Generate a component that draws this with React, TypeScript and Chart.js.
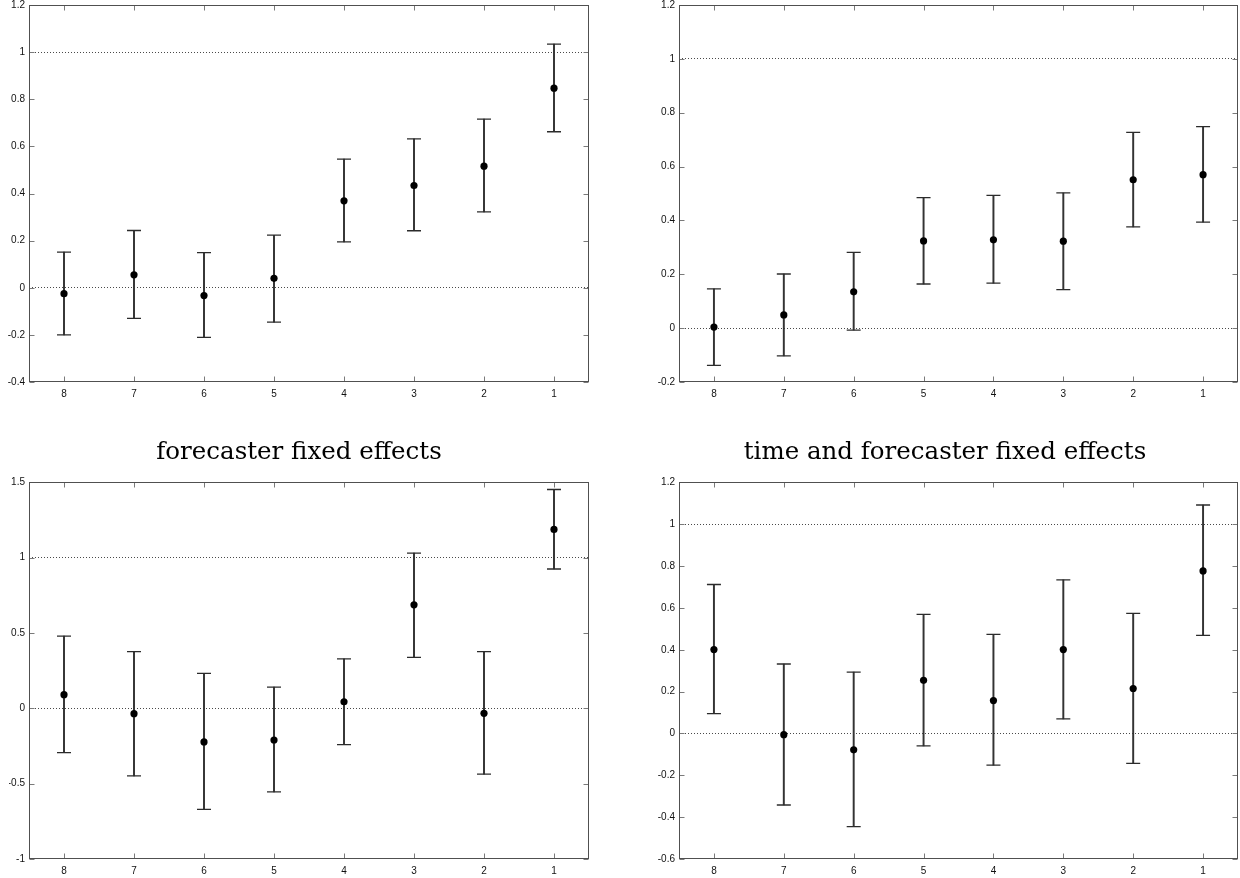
import React, { useEffect, useRef } from 'react';
import { Chart, registerables } from 'chart.js';

Chart.register(...registerables);

// ---------- data ----------
const categories = ['8', '7', '6', '5', '4', '3', '2', '1'];

const p1Est = [-0.025, 0.055, -0.033, 0.04, 0.369, 0.434, 0.516, 0.847];
const p1Lo = [-0.2, -0.13, -0.211, -0.146, 0.195, 0.242, 0.322, 0.662];
const p1Hi = [0.151, 0.243, 0.149, 0.223, 0.546, 0.632, 0.716, 1.034];

const p2Est = [0.004, 0.049, 0.135, 0.324, 0.328, 0.323, 0.551, 0.57];
const p2Lo = [-0.138, -0.103, -0.007, 0.164, 0.167, 0.143, 0.376, 0.394];
const p2Hi = [0.146, 0.201, 0.281, 0.485, 0.493, 0.502, 0.727, 0.748];

const p3Est = [0.091, -0.035, -0.223, -0.21, 0.044, 0.687, -0.033, 1.188];
const p3Lo = [-0.294, -0.448, -0.671, -0.554, -0.241, 0.338, -0.437, 0.925];
const p3Hi = [0.479, 0.377, 0.232, 0.141, 0.329, 1.031, 0.377, 1.453];

const p4Est = [0.401, -0.006, -0.078, 0.254, 0.157, 0.401, 0.215, 0.777];
const p4Lo = [0.095, -0.342, -0.445, -0.059, -0.151, 0.07, -0.143, 0.469];
const p4Hi = [0.712, 0.332, 0.293, 0.569, 0.474, 0.734, 0.574, 1.092];

// reference (dotted) lines
const refLines = [0, 1];

// y axis [min, max, step]
const p1Axis = [-0.4, 1.2, 0.2];
const p2Axis = [-0.2, 1.2, 0.2];
const p3Axis = [-1, 1.5, 0.5];
const p4Axis = [-0.6, 1.2, 0.2];

const p3Title = 'forecaster fixed effects';
const p4Title = 'time and forecaster fixed effects';

// ---------- plugin: frame + inward ticks ----------
const frameTicks = {
  id: 'frameTicks',
  afterDraw(chart: any) {
    const { ctx, chartArea } = chart;
    const l = Math.round(chartArea.left) + 0.5;
    const r = Math.round(chartArea.right) - 0.5;
    const t = Math.round(chartArea.top) + 0.5;
    const b = Math.round(chartArea.bottom) - 0.5;
    ctx.save();
    ctx.lineWidth = 1;
    ctx.strokeStyle = '#7a7a7a';
    ctx.beginPath();
    const ys = chart.scales.y;
    ys.ticks.forEach((_: any, i: number) => {
      const y = Math.round(ys.getPixelForTick(i)) + 0.5;
      ctx.moveTo(l, y);
      ctx.lineTo(l + 5, y);
      ctx.moveTo(r, y);
      ctx.lineTo(r - 5, y);
    });
    const xs = chart.scales.x;
    xs.ticks.forEach((_: any, i: number) => {
      const x = Math.round(xs.getPixelForTick(i)) + 0.5;
      ctx.moveTo(x, b);
      ctx.lineTo(x, b - 5);
      ctx.moveTo(x, t);
      ctx.lineTo(x, t + 5);
    });
    ctx.stroke();
    ctx.strokeStyle = '#505050';
    ctx.strokeRect(l, t, r - l, b - t);
    ctx.restore();
  },
};

const fmt = (v: number) => String(Math.round(v * 10) / 10);
const isRef = (v: number) => refLines.some((r) => Math.abs(v - r) < 1e-9);

type PanelProps = {
  left: number;
  top: number;
  width: number;
  height: number;
  padLeft: number;
  padRight: number;
  yAxisW: number;
  xAxisH: number;
  est: number[];
  lo: number[];
  hi: number[];
  axis: number[];
  title?: string;
  titlePad?: { top: number; bottom: number };
};

function Panel(p: PanelProps) {
  const ref = useRef<HTMLCanvasElement | null>(null);
  useEffect(() => {
    if (!ref.current) return;
    const ink = '#2b2b2b';
    const capDs = (vals: number[]) =>
      ({
        type: 'line',
        data: vals,
        showLine: false,
        pointStyle: 'line',
        pointRadius: 7,
        pointBorderWidth: 1.3,
        pointBorderColor: ink,
        pointBackgroundColor: ink,
        order: 2,
      } as any);
    const chart = new Chart(ref.current, {
      type: 'bar',
      data: {
        labels: categories,
        datasets: [
          {
            type: 'bar',
            data: p.lo.map((v, i) => [v, p.hi[i]]),
            backgroundColor: '#333',
            borderWidth: 0,
            barThickness: 1.3,
            order: 3,
          } as any,
          capDs(p.hi),
          capDs(p.lo),
          {
            type: 'line',
            data: p.est,
            showLine: false,
            pointStyle: 'circle',
            pointRadius: 3.6,
            pointBorderWidth: 0,
            pointBackgroundColor: '#000',
            order: 1,
          } as any,
        ],
      },
      options: {
        animation: false,
        responsive: false,
        devicePixelRatio: 1,
        events: [],
        layout: {
          padding: { top: 0, right: p.padRight, bottom: 0, left: p.padLeft },
        },
        plugins: {
          legend: { display: false },
          tooltip: { enabled: false },
          title: p.title
            ? {
                display: true,
                text: p.title,
                color: '#000',
                font: { family: 'DejaVu Serif', size: 24.5, weight: 'normal', lineHeight: 1.2 },
                padding: p.titlePad,
              }
            : { display: false },
        },
        scales: {
          x: {
            type: 'category',
            offset: true,
            grid: { display: false, drawTicks: false },
            border: { display: false },
            ticks: {
              color: '#111',
              padding: 7,
              font: { family: 'Liberation Sans', size: 10, lineHeight: 1 },
              maxRotation: 0,
            },
            afterFit: (s: any) => {
              s.height = p.xAxisH;
            },
          },
          y: {
            type: 'linear',
            min: p.axis[0],
            max: p.axis[1],
            grid: {
              drawTicks: false,
              lineWidth: 1,
              color: (c: any) => (c.tick && isRef(c.tick.value) ? '#4a4a4a' : 'rgba(0,0,0,0)'),
            },
            border: { display: false, dash: [1, 2] },
            ticks: {
              stepSize: p.axis[2],
              color: '#111',
              padding: 4,
              font: { family: 'Liberation Sans', size: 10, lineHeight: 1 },
              callback: (v: any) => fmt(Number(v)),
            },
            afterFit: (s: any) => {
              s.width = p.yAxisW;
            },
          },
        },
      } as any,
      plugins: [frameTicks],
    });
    return () => chart.destroy();
  }, []);
  return (
    <canvas
      ref={ref}
      width={p.width}
      height={p.height}
      style={{ position: 'absolute', left: p.left, top: p.top, width: p.width, height: p.height }}
    />
  );
}

export default function App() {
  return (
    <div
      style={{
        position: 'absolute',
        left: 0,
        top: 0,
        width: 1240,
        height: 878,
        overflow: 'hidden',
        background: '#fff',
      }}
    >
      <Panel left={0} top={-4} width={620} height={414} padLeft={0} padRight={31} yAxisW={29} xAxisH={28}
        est={p1Est} lo={p1Lo} hi={p1Hi} axis={p1Axis} />
      <Panel left={640} top={-4} width={610} height={414} padLeft={0} padRight={12} yAxisW={39} xAxisH={28}
        est={p2Est} lo={p2Lo} hi={p2Hi} axis={p2Axis} />
      <Panel left={-10} top={430} width={618} height={448} padLeft={19} padRight={19} yAxisW={20} xAxisH={19}
        est={p3Est} lo={p3Lo} hi={p3Hi} axis={p3Axis} title={p3Title} titlePad={{ top: 8, bottom: 15 }} />
      <Panel left={640} top={430} width={610} height={448} padLeft={12} padRight={12} yAxisW={27} xAxisH={19}
        est={p4Est} lo={p4Lo} hi={p4Hi} axis={p4Axis} title={p4Title} titlePad={{ top: 8, bottom: 15 }} />
    </div>
  );
}
